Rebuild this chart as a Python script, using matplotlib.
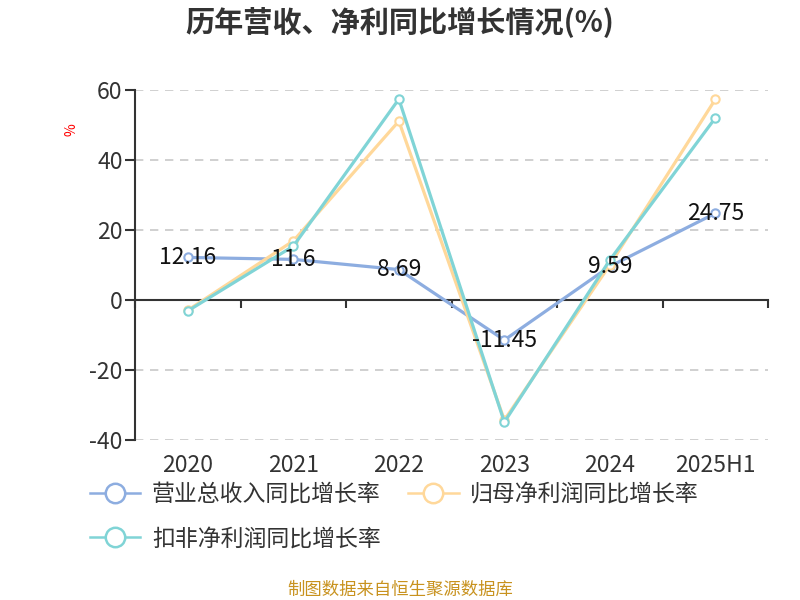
import numpy as np
import matplotlib.pyplot as plt

plt.rcParams['font.family'] = ['Noto Sans CJK SC', 'DejaVu Sans']
plt.rcParams['axes.unicode_minus'] = False

years = ['2020', '2021', '2022', '2023', '2024', '2025H1']
revenue = [12.16, 11.6, 8.69, -11.45, 9.59, 24.75]
net_profit = [-2.9, 16.9, 51.1, -34.3, 10.0, 57.3]
deducted = [-3.1, 15.4, 57.4, -34.9, 11.4, 52.0]
names = ['营业总收入同比增长率', '归母净利润同比增长率', '扣非净利润同比增长率']
colors = ['#8dade0', '#ffd89a', '#80d4d6']
yticks = [-40, -20, 0, 20, 40, 60]

fig = plt.figure(figsize=(8, 6), dpi=100)
ax = fig.add_axes([0.169, 0.2667, 0.791, 0.5833])
x = np.arange(len(years))

# dashed grid, skip the zero line (axis drawn there)
for t in yticks:
    if t != 0:
        ax.axhline(t, linestyle=(0, (5, 4)), color='#c8c8c8', lw=1.2, zorder=0)

for vals, c, n in zip([revenue, net_profit, deducted], colors, names):
    ax.plot(x, vals, color=c, lw=2.3, marker='o', ms=6,
            mfc='white', mec=c, mew=1.5, label=n, zorder=3)

for xi, v in zip(x, revenue):
    ax.text(xi, v, f'{v:g}', ha='center', va='center', fontsize=16.5,
            color='#111111', zorder=5)

ax.set_xlim(-0.5, len(years) - 0.5)
ax.set_ylim(-40, 60)
ax.set_yticks(yticks)
for s in ['top', 'right', 'bottom']:
    ax.spines[s].set_visible(False)
ax.spines['left'].set_color('#333333')
ax.spines['left'].set_linewidth(1.5)
ax.tick_params(axis='y', length=7, width=1.5, color='#333333',
               labelsize=16.5, labelcolor='#333333', pad=2)
ax.set_xticks(x)
ax.set_xticklabels(years)
ax.tick_params(axis='x', length=0, labelsize=16.5, labelcolor='#333333', pad=10)

# zero line axis with category boundary ticks
sec = ax.secondary_xaxis(0.4)
sec.set_xticks(np.arange(len(years) + 1) - 0.5)
sec.set_xticklabels([])
sec.spines['bottom'].set_color('#333333')
sec.spines['bottom'].set_linewidth(1.5)
sec.tick_params(axis='x', direction='out', length=6, width=1.5, color='#333333')

ax.text(-0.1, 0.886, '%', transform=ax.transAxes, rotation=90, color='red',
        fontsize=10, ha='center', va='center')

fig.text(0.5, 0.962, '历年营收、净利同比增长情况(%)', ha='center', va='center',
         fontsize=21, fontweight='bold', color='#333333')

leg_handles = []
for c in colors:
    h, = ax.plot([], [], color=c, lw=1.8, marker='o', ms=14, mfc='white',
                 mec=c, mew=1.8)
    leg_handles.append(h)
order = [0, 2, 1]
fig.legend([leg_handles[i] for i in order], [names[i] for i in order],
           ncol=2, loc='upper left', bbox_to_anchor=(0.101, 0.211),
           frameon=False, fontsize=16.5, labelcolor='#333333',
           handlelength=2.2, handletextpad=0.5, columnspacing=1.2,
           labelspacing=0.95, borderaxespad=0)

fig.text(0.5, 0.017, '制图数据来自恒生聚源数据库', ha='center', va='center',
         fontsize=12.5, color='#c8921e')

plt.savefig('out.png', dpi=100)
